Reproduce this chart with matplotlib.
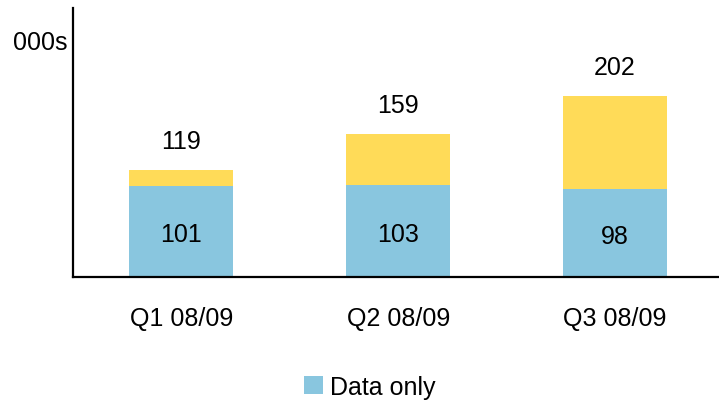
import matplotlib.pyplot as plt
import numpy as np

plt.rcParams['font.family'] = ['Liberation Sans', 'DejaVu Sans']

quarters = ["Q1 08/09", "Q2 08/09", "Q3 08/09"]
data_only = [101, 103, 98]
totals = [119, 159, 202]
other = [t - d for t, d in zip(totals, data_only)]

blue = "#89C6DF"
yellow = "#FFDB58"
fs = 18

fig = plt.figure(figsize=(7.19, 4.02), dpi=100)
ax = fig.add_axes([73 / 719, 124 / 402, 1 - 73 / 719, 269 / 402])

x = np.arange(len(quarters))
w = 0.48
b1 = ax.bar(x, data_only, w, color=blue, label="Data only")
ax.bar(x, other, w, bottom=data_only, color=yellow)

for xi, d, t in zip(x, data_only, totals):
    ax.annotate(str(d), (xi, d / 2), xytext=(0, -2), textcoords="offset points",
                ha="center", va="center", fontsize=fs)
    ax.annotate(str(t), (xi, t), xytext=(0, 21), textcoords="offset points",
                ha="center", va="center", fontsize=fs)

ax.set_xlim(-0.5, 2.48)
ax.set_ylim(0, 300)
ax.set_xticks(x)
ax.set_xticklabels(quarters, fontsize=fs)
ax.set_yticks([])
ax.tick_params(axis="x", length=0, pad=21)
for s in ["top", "right"]:
    ax.spines[s].set_visible(False)
for s in ["left", "bottom"]:
    ax.spines[s].set_linewidth(1.6)

fig.text(67 / 719, 1 - 43 / 402, "000s", ha="right", va="center", fontsize=fs)

fig.legend(handles=[b1], loc="center", bbox_to_anchor=(370 / 719, 1 - 388 / 402),
           frameon=False, fontsize=fs, handlelength=0.75, handleheight=0.75,
           handletextpad=0.3)

fig.savefig("out.png", dpi=100)
